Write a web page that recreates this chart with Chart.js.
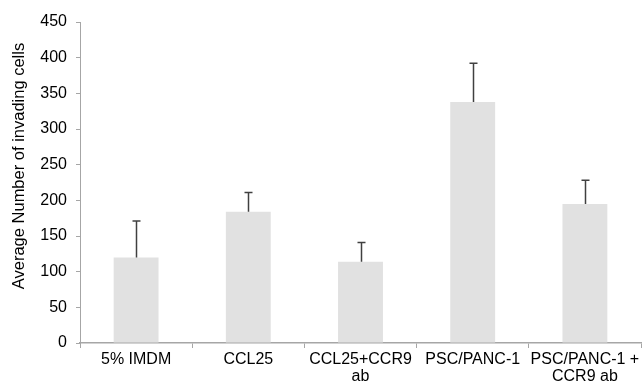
<!DOCTYPE html>
<html>
<head>
<meta charset="utf-8">
<script src="https://cdn.jsdelivr.net/npm/chart.js@4/dist/chart.umd.min.js"></script>
<style>
html,body{margin:0;padding:0;background:#fff;}
#wrap{width:644px;height:383px;position:relative;}
</style>
</head>
<body>
<div id="wrap"><canvas id="c" width="644" height="383"></canvas></div>
<script>
const categories = [["5% IMDM"], ["CCL25"], ["CCL25+CCR9", "ab"], ["PSC/PANC-1"], ["PSC/PANC-1 +", "CCR9 ab"]];
const meanValues = [120, 184, 114, 338, 195];
const errorValues = [51, 27, 27, 54, 33];
const yTicks = [0, 50, 100, 150, 200, 250, 300, 350, 400, 450];
const yTitle = "Average Number of invading cells";

const FONT = "'Liberation Sans', Arial, Helvetica, sans-serif";

const errorBarPlugin = {
  id: 'errorBars',
  afterDatasetsDraw(chart) {
    const ctx = chart.ctx;
    const meta = chart.getDatasetMeta(0);
    const ys = chart.scales.y;
    ctx.save();
    ctx.strokeStyle = '#404040';
    ctx.lineWidth = 1.5;
    meta.data.forEach((bar, i) => {
      const x = Math.round(bar.x) + 0.5;
      const y0 = ys.getPixelForValue(meanValues[i]);
      const y1 = ys.getPixelForValue(meanValues[i] + errorValues[i]);
      ctx.beginPath();
      ctx.moveTo(x, y0);
      ctx.lineTo(x, y1);
      ctx.moveTo(x - 4, y1);
      ctx.lineTo(x + 4, y1);
      ctx.stroke();
    });
    ctx.restore();
  }
};

const yTitlePlugin = {
  id: 'yTitle',
  afterDraw(chart) {
    const ctx = chart.ctx;
    ctx.save();
    ctx.translate(19, 166);
    ctx.rotate(-Math.PI / 2);
    ctx.fillStyle = '#000';
    ctx.font = "16.5px " + FONT;
    ctx.textAlign = 'center';
    ctx.textBaseline = 'middle';
    ctx.fillText(yTitle, 0, 0);
    ctx.restore();
  }
};

new Chart(document.getElementById('c'), {
  type: 'bar',
  data: {
    labels: categories,
    datasets: [{
      data: meanValues,
      backgroundColor: '#e1e1e1',
      borderWidth: 0,
      categoryPercentage: 0.4,
      barPercentage: 1.0
    }]
  },
  options: {
    responsive: false,
    animation: false,
    devicePixelRatio: 1,
    layout: { padding: { top: 22, right: 3, left: 0, bottom: 0 } },
    plugins: { legend: { display: false }, tooltip: { enabled: false } },
    scales: {
      x: {
        offset: true,
        grid: { display: true, drawOnChartArea: false, offset: true, color: '#a6a6a6', tickLength: 5, lineWidth: 1 },
        border: { display: true, color: '#a6a6a6', width: 1.5 },
        ticks: { color: '#000', font: { family: FONT, size: 16, lineHeight: 1.05 }, maxRotation: 0, autoSkip: false, padding: 3 },
        afterFit(scale) { scale.height = 40; }
      },
      y: {
        min: 0, max: 450,
        afterBuildTicks(scale) { scale.ticks = yTicks.map(v => ({ value: v })); },
        grid: { display: true, drawOnChartArea: false, color: '#a6a6a6', tickLength: 4 },
        border: { display: true, color: '#a6a6a6', width: 1 },
        ticks: { color: '#000', font: { family: FONT, size: 16 }, padding: 9 },
        title: { display: false },
        afterFit(scale) { scale.width = 80; }
      }
    }
  },
  plugins: [errorBarPlugin, yTitlePlugin]
});
</script>
</body>
</html>
